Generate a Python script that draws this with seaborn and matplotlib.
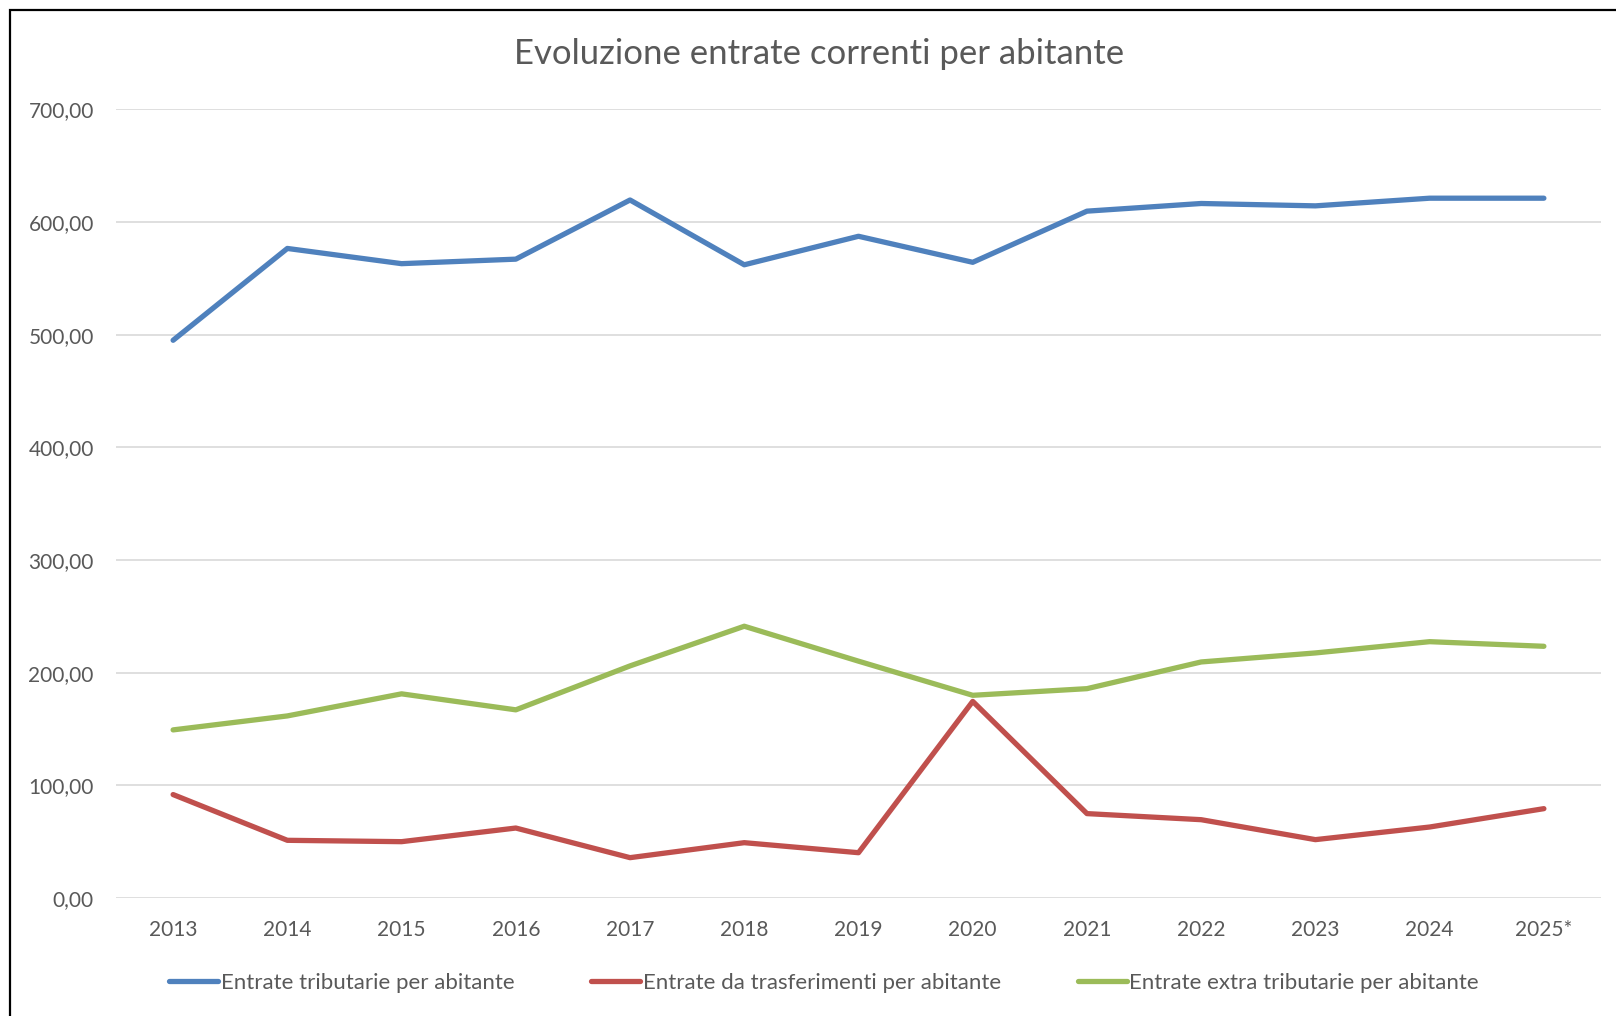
import matplotlib
matplotlib.use("Agg")
import matplotlib.pyplot as plt
from matplotlib.patches import Rectangle
from matplotlib.ticker import FuncFormatter, MultipleLocator
import seaborn as sns
import pandas as pd

years = ["2013", "2014", "2015", "2016", "2017", "2018", "2019",
         "2020", "2021", "2022", "2023", "2024", "2025*"]
tributarie = [495.0, 576.5, 563.0, 567.0, 619.5, 562.0, 587.3,
              564.2, 609.6, 616.4, 614.3, 621.1, 621.1]
trasferimenti = [91.8, 51.2, 50.0, 62.1, 35.8, 49.1, 40.2,
                 174.5, 74.9, 69.5, 51.8, 63.0, 79.3]
extra = [149.2, 161.6, 181.2, 167.0, 206.0, 241.2, 210.2,
         179.9, 185.8, 209.5, 217.5, 227.5, 223.4]

series_names = ["Entrate tributarie per abitante",
                "Entrate da trasferimenti per abitante",
                "Entrate extra tributarie per abitante"]
colors = ["#4F81BD", "#C0504D", "#9BBB59"]

rows = []
for name, vals in zip(series_names, [tributarie, trasferimenti, extra]):
    for y, v in zip(years, vals):
        rows.append({"Anno": y, "Valore": v, "Serie": name})
df = pd.DataFrame(rows)

sns.set_theme(style="white")
plt.rcParams["font.family"] = ["Lato", "DejaVu Sans"]

fig = plt.figure(figsize=(16.16, 10.16), dpi=100)
ax = fig.add_axes([116 / 1616, 1 - 898 / 1016, (1601 - 116) / 1616, (898 - 109.3) / 1016])

sns.lineplot(data=df, x="Anno", y="Valore", hue="Serie", hue_order=series_names,
             palette=colors, sort=False, linewidth=3.8, legend=False, ax=ax,
             solid_capstyle="round")

ax.set_xlim(-0.5, len(years) - 0.5)
ax.set_ylim(0, 700)
ax.yaxis.set_major_locator(MultipleLocator(100))
ax.yaxis.set_major_formatter(FuncFormatter(lambda v, p: f"{v:.2f}".replace(".", ",")))
ax.grid(axis="y", color="#D9D9D9", linewidth=1.2)
ax.set_axisbelow(True)
for s in ax.spines.values():
    s.set_visible(False)
ax.set_xlabel("")
ax.set_ylabel("")
ax.tick_params(axis="both", length=0, labelsize=15, labelcolor="#595959")
ax.tick_params(axis="y", pad=16)
ax.tick_params(axis="x", pad=16)

fig.text(0.507, 1 - 53.5 / 1016, "Evoluzione entrate correnti per abitante",
         ha="center", va="center", fontsize=25, color="#595959")

handles = ax.get_lines()[:3]
leg = fig.legend(handles, series_names, loc="center", bbox_to_anchor=(0.51, 1 - 983 / 1016),
                 ncol=3, frameon=False, fontsize=16, handlelength=2.2, handletextpad=0.12,
                 columnspacing=3.45, labelcolor="#595959")
for lh in leg.get_lines():
    lh.set_linewidth(3.8)
    lh.set_solid_capstyle("round")

fig.patches.append(Rectangle((10 / 1616, -0.1), 1.2, (1016 - 10) / 1016 + 0.1,
                             transform=fig.transFigure, fill=False, lw=1.6,
                             ec="black", zorder=10))

fig.savefig("out.png", dpi=100, facecolor="white")
